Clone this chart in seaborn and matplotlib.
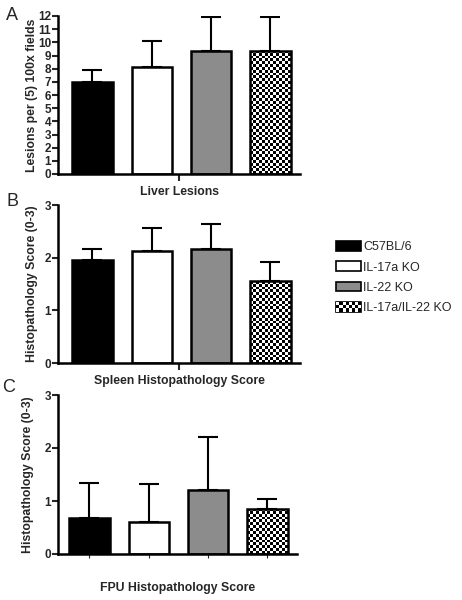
import numpy as np
import matplotlib
matplotlib.use("Agg")
import matplotlib.pyplot as plt
import seaborn as sns
from matplotlib.patches import Patch, Rectangle
from matplotlib.legend_handler import HandlerPatch

groups = ["C57BL/6", "IL-17a KO", "IL-22 KO", "IL-17a/IL-22 KO"]
liver_mean = [7.0, 8.15, 9.35, 9.35]
liver_upper = [7.9, 10.1, 11.9, 11.9]
spleen_mean = [1.95, 2.13, 2.17, 1.55]
spleen_upper = [2.16, 2.56, 2.64, 1.91]
fpu_mean = [0.68, 0.60, 1.20, 0.85]
fpu_upper = [1.34, 1.33, 2.20, 1.03]

titles = ["Liver Lesions", "Spleen Histopathology Score", "FPU Histopathology Score"]
ylabels = ["Lesions per (5) 100x fields", "Histopathology Score (0-3)", "Histopathology Score (0-3)"]

sns.set_theme(style="ticks")
plt.rcParams["font.family"] = ["Liberation Sans", "DejaVu Sans"]

colors = ["#000000", "#ffffff", "#8c8c8c", "#ffffff"]
palette = dict(zip(groups, colors))

W, H = 462, 600
fig = plt.figure(figsize=(W / 100, H / 100), dpi=100)

def frac(l, t, r, b):
    return [l / W, 1 - b / H, (r - l) / W, (b - t) / H]

axes_px = [(58, 16, 300, 174), (58, 205, 300, 363), (58, 395, 297, 554)]
xlims = [(-0.58, 3.5), (-0.58, 3.5), (-0.53, 3.5)]
ylims = [(0, 12), (0, 3), (0, 3)]
yticks = [np.arange(0, 13, 1), [0, 1, 2, 3], [0, 1, 2, 3]]
data = [(liver_mean, liver_upper), (spleen_mean, spleen_upper), (fpu_mean, fpu_upper)]
ylab_x_px = [32, 32, 28]
xlabpads = [0, 0, 14]

for i, (box, (mean, upper)) in enumerate(zip(axes_px, data)):
    ax = fig.add_axes(frac(*box))
    sns.barplot(x=groups, y=mean, hue=groups, palette=palette, order=groups,
                hue_order=groups, ax=ax, width=0.68, edgecolor="black",
                linewidth=1.8, legend=False, errorbar=None, saturation=1)
    err = np.array(upper) - np.array(mean)
    ax.errorbar(x=np.arange(len(groups)), y=mean, yerr=[np.zeros(len(groups)), err],
                fmt="none", ecolor="black", elinewidth=1.5, capsize=7.5, capthick=1.5, zorder=1)
    ax.set_xlim(*xlims[i])
    ax.set_ylim(*ylims[i])
    ax.set_yticks(yticks[i])
    ax.set_yticklabels([str(int(v)) for v in yticks[i]], fontsize=8.5, fontweight="bold")
    bars = sorted([p for p in ax.patches if isinstance(p, Rectangle) and p.get_height() > 0],
                  key=lambda p: p.get_x())
    cb = bars[3]
    x0, y0, w, h = cb.get_x(), cb.get_y(), cb.get_width(), cb.get_height()
    pw = w / (xlims[i][1] - xlims[i][0]) * (box[2] - box[0])
    ph = h / (ylims[i][1] - ylims[i][0]) * (box[3] - box[1])
    nx = max(1, int(round(pw / 2.8)))
    ny = max(1, int(round(ph / 2.8)))
    img = (np.indices((ny, nx)).sum(axis=0) % 2).astype(float)
    im = ax.imshow(img, cmap="gray", extent=[x0, x0 + w, y0, y0 + h], aspect="auto",
                   interpolation="nearest", zorder=cb.get_zorder() - 0.01, vmin=0, vmax=1)
    im.set_clip_path(cb)
    cb.set_facecolor("none")
    ax.set_xlim(*xlims[i])
    ax.set_ylim(*ylims[i])

    if i < 2:
        ax.set_xticks([(xlims[i][0] + xlims[i][1]) / 2])
        ax.set_xticklabels([""])
        ax.tick_params(axis="x", length=5, width=1.5)
    else:
        ax.set_xticks(range(4))
        ax.set_xticklabels([""] * 4)
        ax.tick_params(axis="x", length=3, width=0.8)
    ax.set_xlabel(titles[i], fontsize=8.8, fontweight="bold", labelpad=xlabpads[i])
    ax.tick_params(axis="y", length=4, width=1.5, pad=1)
    ax.set_ylabel(ylabels[i], fontsize=8.8, fontweight="bold", va="center")
    ax.yaxis.set_label_coords((ylab_x_px[i] - box[0]) / (box[2] - box[0]), 0.5)
    for s in ["top", "right"]:
        ax.spines[s].set_visible(False)
    for s in ["left", "bottom"]:
        ax.spines[s].set_linewidth(1.8)
        ax.spines[s].set_color("black")

fig.text(12 / W, 1 - 16 / H, "A", fontsize=13, ha="center", va="center")
fig.text(12 / W, 1 - 201 / H, "B", fontsize=13, ha="center", va="center")
fig.text(9 / W, 1 - 388 / H, "C", fontsize=13, ha="center", va="center")


class CheckerHandler(HandlerPatch):
    def create_artists(self, legend, orig_handle, xdescent, ydescent, width, height, fontsize, trans):
        arts = []
        nx, ny = 8, 3
        dx, dy = width / nx, height / ny
        base = Rectangle((-xdescent, -ydescent), width, height, facecolor="black",
                         edgecolor="black", linewidth=1.2, transform=trans)
        arts.append(base)
        for a in range(nx):
            for b in range(ny):
                if (a + b) % 2 == 0:
                    arts.append(Rectangle((-xdescent + a * dx, -ydescent + b * dy), dx, dy,
                                          facecolor="white", edgecolor="none", transform=trans))
        return arts


handles = [Patch(facecolor=c, edgecolor="black", linewidth=1.2) for c in colors]
fig.legend(handles, groups, loc="upper left", bbox_to_anchor=(330 / W, 1 - 235 / H),
           frameon=False, fontsize=9.0, handlelength=2.0, handleheight=0.8,
           labelspacing=0.65, handletextpad=0.15, borderpad=0,
           handler_map={handles[3]: CheckerHandler()})

fig.savefig("out.png", dpi=100)
